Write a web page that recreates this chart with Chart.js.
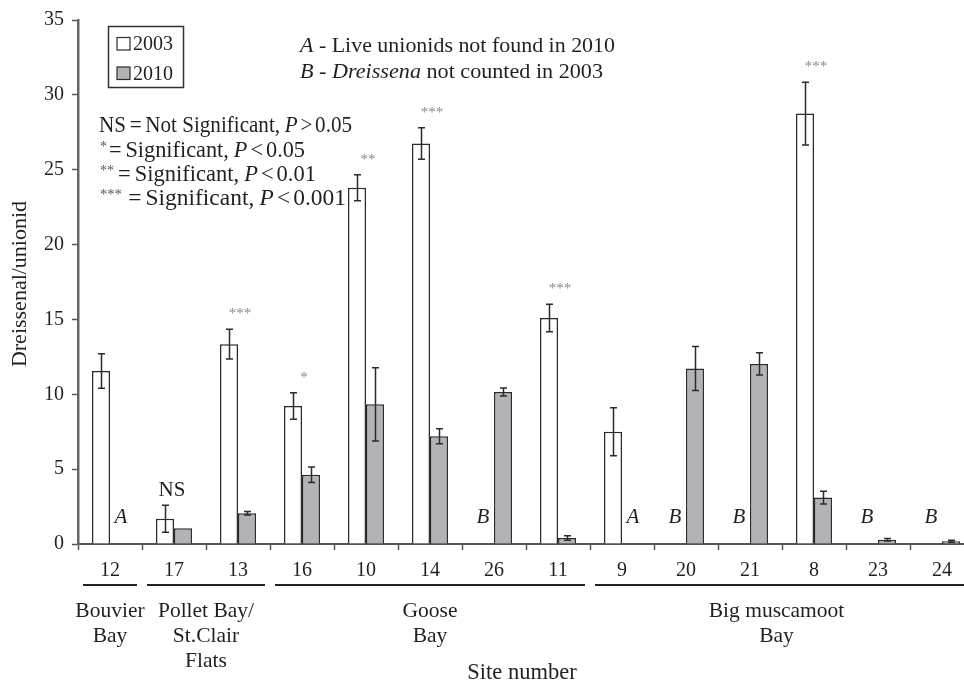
<!DOCTYPE html>
<html><head><meta charset="utf-8">
<script src="https://cdn.jsdelivr.net/npm/chart.js@4"></script>
<style>html,body{margin:0;padding:0;overflow:hidden;background:#fff}</style>
</head><body>
<canvas id="c" width="990" height="681" style="display:block"></canvas>
<script>
// ---- data ----
const sites = ['12','17','13','16','10','14','26','11','9','20','21','8','23','24'];
const values2003 = [11.55, 1.68, 13.35, 9.22, 23.8, 26.75, null, 15.1, 7.5, null, null, 28.75, null, null];
const err2003    = [1.15, 0.9, 1.0, 0.88, 0.87, 1.05, null, 0.92, 1.6, null, null, 2.1, null, null];
const values2010 = [null, 1.05, 2.05, 4.62, 9.33, 7.2, 10.15, 0.4, null, 11.72, 12.03, 3.1, 0.28, 0.18];
const err2010    = [null, 0, 0.12, 0.52, 2.45, 0.5, 0.27, 0.15, null, 1.47, 0.75, 0.42, 0.08, 0.07];
const significance = ['', 'NS', '***', '*', '**', '***', '', '***', '', '', '', '***', '', ''];
const notes2003 = ['', '', '', '', '', '', 'B', '', '', 'B', 'B', '', 'B', 'B'];
const notes2010 = ['A', '', '', '', '', '', '', '', 'A', '', '', '', '', ''];
const groupNames = [['Bouvier','Bay'], ['Pollet Bay/','St.Clair','Flats'], ['Goose','Bay'], ['Big muscamoot','Bay']];
const groupFirst = [0, 1, 3, 8];
const groupLast  = [0, 2, 7, 13];
const seriesLabels = ['2003', '2010'];
const sigStars = ['*', '**', '***'];
const sigP = ['0.05', '0.01', '0.001'];
const yMin = 0, yMax = 35, yStep = 5;
const yTitle = 'Dreissenal/unionid';
const xTitle = 'Site number';

// ---- style ----
const TXT = '#231f20';
const SERIF = '"Liberation Serif","Times New Roman",serif';
const F = (s, it) => (it ? 'italic ' : '') + s + 'px ' + SERIF;
const fill2003 = '#ffffff', fill2010 = '#b2b3b6', edge = '#2b2b2b';

// draw a line made of styled runs, fitted horizontally to a target width
function drawLine(ctx, x, y, parts, targetW) {
  let w = 0;
  for (const p of parts) {
    if (typeof p === 'number') { w += p; continue; }
    ctx.font = p[1]; w += ctx.measureText(p[0]).width;
  }
  const sx = targetW ? targetW / w : 1;
  ctx.save();
  ctx.translate(x, y); ctx.scale(sx, 1);
  ctx.textAlign = 'left'; ctx.textBaseline = 'alphabetic';
  let cx = 0;
  for (const p of parts) {
    if (typeof p === 'number') { cx += p; continue; }
    ctx.font = p[1]; ctx.fillStyle = p[2] || TXT;
    ctx.fillText(p[0], cx, p[3] || 0);
    cx += ctx.measureText(p[0]).width;
  }
  ctx.restore();
}

const deco = {
  id: 'deco',
  afterDatasetsDraw(chart) {
    const ctx = chart.ctx, ys = chart.scales.y;
    const errs = [err2003, err2010];
    ctx.save();
    ctx.strokeStyle = edge; ctx.lineWidth = 1.5;
    chart.data.datasets.forEach((ds, di) => {
      const meta = chart.getDatasetMeta(di);
      meta.data.forEach((el, i) => {
        const v = ds.data[i], e = errs[di][i];
        if (v == null || !e) return;
        const x = Math.round(el.x) + 0.5;
        const yt = ys.getPixelForValue(v + e), yb = ys.getPixelForValue(v - e);
        ctx.beginPath();
        ctx.moveTo(x, yt); ctx.lineTo(x, yb);
        ctx.moveTo(x - 3.5, yt); ctx.lineTo(x + 3.5, yt);
        ctx.moveTo(x - 3.5, yb); ctx.lineTo(x + 3.5, yb);
        ctx.stroke();
      });
    });
    ctx.restore();
  },
  afterDraw(chart) {
    const ctx = chart.ctx, xs = chart.scales.x, ys = chart.scales.y, ca = chart.chartArea;
    const m0 = chart.getDatasetMeta(0), m1 = chart.getDatasetMeta(1);
    ctx.save();
    ctx.textBaseline = 'alphabetic';
    // significance marks
    sites.forEach((s, i) => {
      const sig = significance[i];
      if (!sig) return;
      const top = ys.getPixelForValue(values2003[i] + (err2003[i] || 0));
      ctx.textAlign = 'center';
      if (sig === 'NS') {
        ctx.font = F(21); ctx.fillStyle = TXT;
        ctx.fillText(sig, xs.getPixelForValue(i) - 2, top - 9);
      } else {
        ctx.font = F(15); ctx.fillStyle = '#8c8c8c';
        ctx.fillText(sig, xs.getPixelForValue(i) + 2, top - 11);
      }
    });
    // A / B notes
    ctx.font = F(21, true); ctx.fillStyle = TXT; ctx.textAlign = 'center';
    const base = ys.getPixelForValue(0);
    sites.forEach((s, i) => {
      if (notes2003[i]) ctx.fillText(notes2003[i], m0.data[i].x - 2, base - 21);
      if (notes2010[i]) ctx.fillText(notes2010[i], m1.data[i].x + 2, base - 21);
    });
    // legend
    ctx.textAlign = 'left';
    ctx.strokeStyle = '#333'; ctx.lineWidth = 1.5;
    ctx.strokeRect(108.5, 26.5, 75, 61);
    const fills = [fill2003, fill2010];
    seriesLabels.forEach((lab, k) => {
      const sy = 37.5 + k * 29.5;
      ctx.fillStyle = fills[k]; ctx.fillRect(117, sy, 13, 12.5);
      ctx.strokeStyle = edge; ctx.lineWidth = 1.2; ctx.strokeRect(117, sy, 13, 12.5);
      ctx.font = F(20); ctx.fillStyle = TXT;
      ctx.fillText(lab, 133, 50 + k * 29.5);
    });
    // notes legend
    drawLine(ctx, 300, 52, [['A', F(21, true)], [' - Live unionids not found in 2010', F(21)]], 315);
    drawLine(ctx, 300, 78, [['B - ', F(21, true)], ['Dreissena', F(21, true)], [' not counted in 2003', F(21)]], 303);
    // significance legend
    drawLine(ctx, 99, 132, [['NS', F(22.5)], 4, ['=', F(22.5)], 4, ['Not Significant,', F(22.5)], 5,
      ['P', F(22.5, true)], 3, ['>', F(22.5)], 3, ['0.05', F(22.5)]], 253);
    const rowW = [205, 216, 246];
    sigStars.forEach((st, k) => {
      drawLine(ctx, 100, 156.5 + k * 24, [[st, F(14), '#555', -6], 2 + k * 2, ['=', F(22.5)], 4, ['Significant,', F(22.5)], 5,
        ['P', F(22.5, true)], 3, ['<', F(22.5)], 3, [sigP[k], F(22.5)]], rowW[k]);
    });
    // groups
    ctx.strokeStyle = '#222'; ctx.lineWidth = 2;
    ctx.textAlign = 'center'; ctx.font = F(21.5); ctx.fillStyle = TXT;
    const half = (xs.getPixelForValue(1) - xs.getPixelForValue(0)) / 2;
    groupNames.forEach((lines, g) => {
      const x0 = xs.getPixelForValue(groupFirst[g]) - half + 5;
      const x1 = xs.getPixelForValue(groupLast[g]) + half - 5;
      ctx.beginPath(); ctx.moveTo(x0, 585); ctx.lineTo(x1, 585); ctx.stroke();
      const cx = (x0 + Math.min(x1, ca.right - 16)) / 2;
      lines.forEach((t, j) => ctx.fillText(t, cx, 617 + j * 25));
    });
    ctx.font = F(22.5);
    ctx.fillText(xTitle, 522, 679);
    // y title
    ctx.save();
    ctx.translate(26, 284); ctx.rotate(-Math.PI / 2);
    ctx.font = F(22); ctx.textAlign = 'center';
    ctx.fillText(yTitle, 0, 0);
    ctx.restore();
    ctx.restore();
  }
};

new Chart(document.getElementById('c'), {
  type: 'bar',
  data: {
    labels: sites,
    datasets: [
      { label: seriesLabels[0], data: values2003, backgroundColor: fill2003, borderColor: edge, borderWidth: 1.5, categoryPercentage: 0.5625, barPercentage: 1 },
      { label: seriesLabels[1], data: values2010, backgroundColor: fill2010, borderColor: edge, borderWidth: 1.5, categoryPercentage: 0.5625, barPercentage: 1 }
    ]
  },
  options: {
    responsive: false, animation: false, devicePixelRatio: 1,
    layout: { padding: { left: 0, top: 19, right: 16, bottom: 0 } },
    plugins: { legend: { display: false }, tooltip: { enabled: false } },
    scales: {
      x: {
        grid: { drawOnChartArea: false, tickLength: 6, tickColor: '#555', tickWidth: 1.5 },
        border: { color: '#555', width: 2 },
        ticks: { font: { family: SERIF, size: 20 }, color: TXT, padding: 9, maxRotation: 0 },
        afterFit(s) { s.height = 137; }
      },
      y: {
        min: yMin, max: yMax,
        grid: { drawOnChartArea: false, tickLength: 6, tickColor: '#555', tickWidth: 1.5 },
        border: { color: '#666', width: 2.5 },
        ticks: { stepSize: yStep, font: { family: SERIF, size: 20 }, color: TXT, padding: 8 },
        afterFit(s) { s.width = 78; }
      }
    }
  },
  plugins: [deco]
});
</script>
</body></html>
